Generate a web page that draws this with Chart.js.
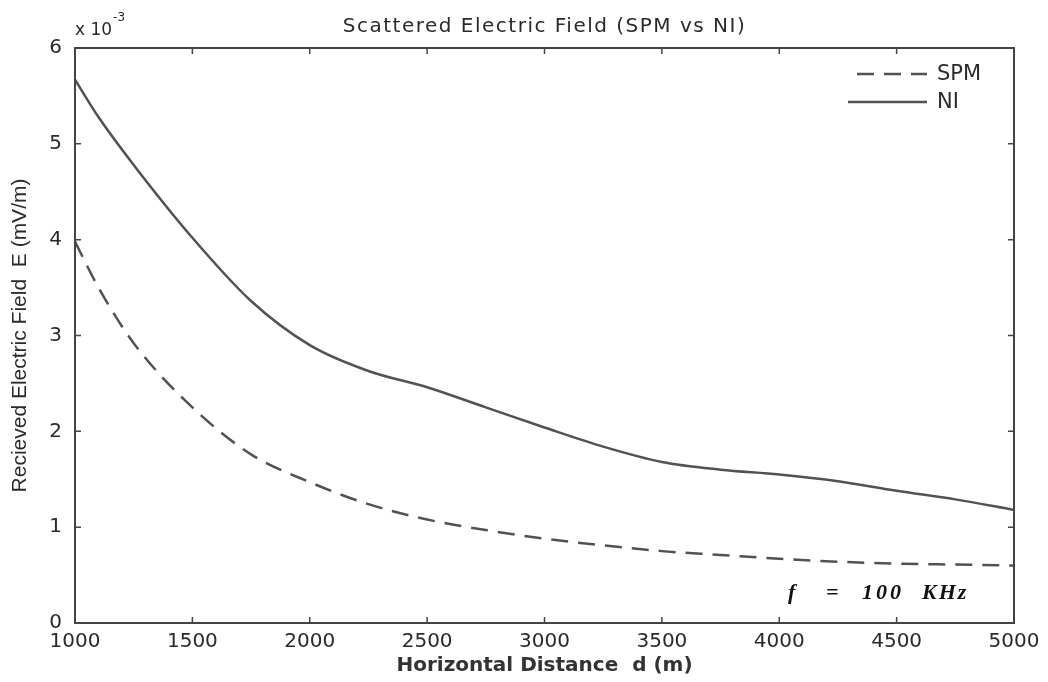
<!DOCTYPE html>
<html>
<head>
<meta charset="utf-8">
<script src="https://cdn.jsdelivr.net/npm/chart.js@4.4.1/dist/chart.umd.min.js"></script>
<style>
  html, body { margin: 0; padding: 0; background: #fff; }
  #wrap { width: 1048px; height: 682px; position: relative; }
</style>
</head>
<body>
<div id="wrap"><canvas id="fieldChart" width="1048" height="682"></canvas></div>
<script>
// horizontal distance d (m)
const distances = [1000, 1100, 1250, 1500, 1750, 2000, 2250, 2500, 2750, 3000, 3250, 3500, 3750, 4000, 4250, 4500, 4750, 5000];
// received field, in units of 1e-3 mV/m
const spmValues = [3.98, 3.50, 2.92, 2.25, 1.76, 1.47, 1.24, 1.08, 0.97, 0.88, 0.81, 0.75, 0.71, 0.67, 0.64, 0.62, 0.61, 0.60];
const niValues  = [5.67, 5.28, 4.78, 4.02, 3.36, 2.90, 2.63, 2.46, 2.25, 2.04, 1.84, 1.68, 1.60, 1.55, 1.48, 1.38, 1.29, 1.18];
const xTicks = [1000, 1500, 2000, 2500, 3000, 3500, 4000, 4500, 5000];
const yTicks = [0, 1, 2, 3, 4, 5, 6];

const lineGray = '#525252';
const textGray = '#2a2a2a';
const wideFont = '"DejaVu Sans", Verdana, sans-serif';
const sansFont = '"Liberation Sans", Arial, sans-serif';

// box, inward ticks, title, legend and the frequency note
const decorations = {
    id: 'decorations',
    afterDraw(chart) {
        const ctx = chart.ctx;
        const area = chart.chartArea;
        const xs = chart.scales.x;
        const ys = chart.scales.y;
        ctx.save();

        ctx.strokeStyle = '#444';
        ctx.lineWidth = 2;
        ctx.strokeRect(area.left, area.top, area.right - area.left, area.bottom - area.top);

        ctx.lineWidth = 1.5;
        ctx.beginPath();
        xTicks.forEach(v => {
            const px = xs.getPixelForValue(v);
            ctx.moveTo(px, area.bottom); ctx.lineTo(px, area.bottom - 6);
            ctx.moveTo(px, area.top); ctx.lineTo(px, area.top + 6);
        });
        yTicks.forEach(v => {
            const py = ys.getPixelForValue(v);
            ctx.moveTo(area.left, py); ctx.lineTo(area.left + 6, py);
            ctx.moveTo(area.right, py); ctx.lineTo(area.right - 6, py);
        });
        ctx.stroke();

        // title
        ctx.fillStyle = textGray;
        ctx.font = '20px ' + wideFont;
        ctx.letterSpacing = '1.5px';
        ctx.textAlign = 'center';
        ctx.textBaseline = 'middle';
        ctx.fillText('Scattered Electric Field (SPM vs NI)', (area.left + area.right) / 2, 27);
        ctx.letterSpacing = '0px';

        // exponent
        ctx.textAlign = 'left';
        ctx.font = '17px ' + wideFont;
        ctx.fillText('x 10', area.left, 31);
        const baseW = ctx.measureText('x 10').width;
        ctx.font = '12px ' + wideFont;
        ctx.fillText('-3', area.left + baseW + 1, 18);

        // legend
        const legendItems = [
            { label: 'SPM', dash: [17, 10], y: 74, x0: 857 },
            { label: 'NI', dash: [], y: 102, x0: 848 }
        ];
        legendItems.forEach(item => {
            ctx.strokeStyle = lineGray;
            ctx.lineWidth = 2.5;
            ctx.setLineDash(item.dash);
            ctx.beginPath();
            ctx.moveTo(item.x0, item.y);
            ctx.lineTo(927, item.y);
            ctx.stroke();
            ctx.setLineDash([]);
            ctx.fillStyle = textGray;
            ctx.font = '21px ' + wideFont;
            ctx.textAlign = 'left';
            ctx.fillText(item.label, 937, item.y + 1);
        });

        // frequency note
        ctx.fillStyle = '#111';
        ctx.font = 'bold italic 22px "Liberation Serif", serif';
        ctx.textAlign = 'left';
        ctx.fillText('f', 788, 593);
        ctx.fillText('=', 826, 593);
        ctx.letterSpacing = '3px';
        ctx.fillText('100', 862, 593);
        ctx.letterSpacing = '2px';
        ctx.fillText('KHz', 922, 593);
        ctx.letterSpacing = '0px';

        ctx.restore();
    }
};

const ctx = document.getElementById('fieldChart').getContext('2d');
new Chart(ctx, {
    type: 'line',
    data: {
        datasets: [
            {
                label: 'SPM',
                data: distances.map((d, i) => ({ x: d, y: spmValues[i] })),
                borderColor: lineGray,
                borderWidth: 2.5,
                borderDash: [17, 10],
                pointRadius: 0,
                cubicInterpolationMode: 'monotone',
                fill: false
            },
            {
                label: 'NI',
                data: distances.map((d, i) => ({ x: d, y: niValues[i] })),
                borderColor: lineGray,
                borderWidth: 2.5,
                pointRadius: 0,
                cubicInterpolationMode: 'monotone',
                fill: false
            }
        ]
    },
    options: {
        responsive: false,
        animation: false,
        layout: { padding: { top: 48, right: 34, left: 0, bottom: 0 } },
        plugins: {
            legend: { display: false },
            tooltip: { enabled: false }
        },
        scales: {
            x: {
                type: 'linear',
                min: 1000,
                max: 5000,
                afterFit: scale => { scale.height = 59; },
                afterBuildTicks: scale => { scale.ticks = xTicks.map(v => ({ value: v })); },
                grid: { display: false, drawTicks: false },
                border: { display: false },
                ticks: {
                    color: textGray,
                    font: { family: wideFont, size: 20 },
                    padding: 7,
                    maxRotation: 0,
                    callback: v => String(v)
                },
                title: {
                    display: true,
                    text: 'Horizontal Distance  d (m)',
                    color: '#333',
                    font: { family: wideFont, size: 20, weight: 'bold' },
                    padding: { top: 0, bottom: 4 }
                }
            },
            y: {
                min: 0,
                max: 6,
                afterFit: scale => { scale.width = 75; },
                afterBuildTicks: scale => { scale.ticks = yTicks.map(v => ({ value: v })); },
                grid: { display: false, drawTicks: false },
                border: { display: false },
                ticks: {
                    color: textGray,
                    font: { family: wideFont, size: 20 },
                    padding: 13,
                    callback: v => String(v)
                },
                title: {
                    display: true,
                    text: 'Recieved Electric Field  E (mV/m)',
                    color: textGray,
                    font: { family: sansFont, size: 21 },
                    padding: { top: 8, bottom: 0 }
                }
            }
        }
    },
    plugins: [decorations]
});
</script>
</body>
</html>
